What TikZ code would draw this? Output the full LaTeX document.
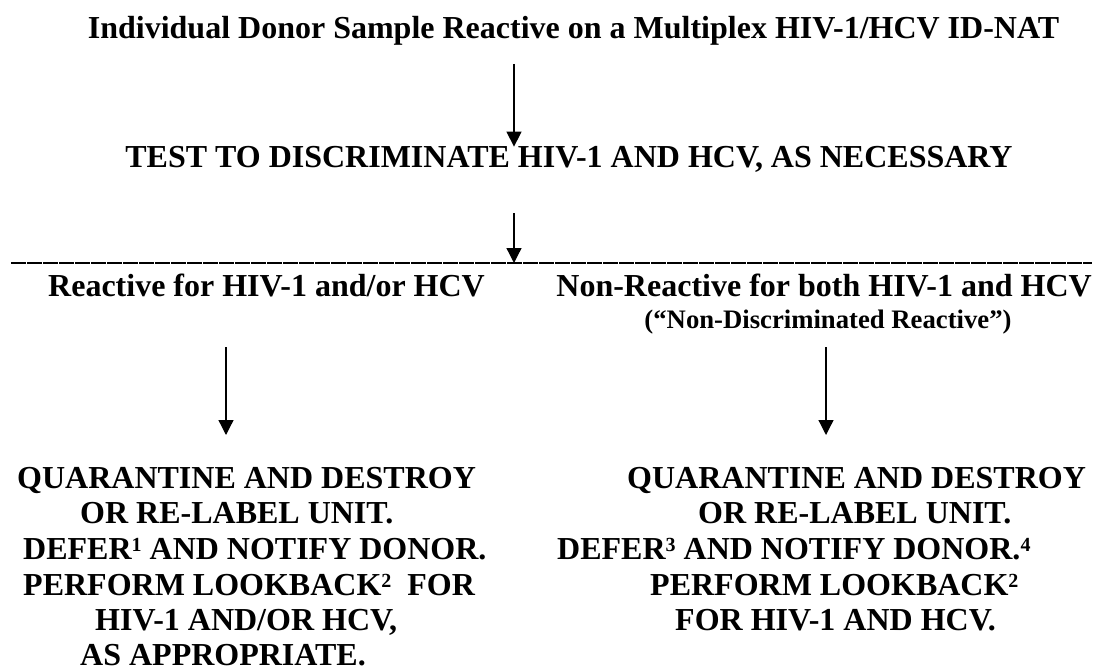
\documentclass[tikz,border=0pt]{standalone}
\usepackage{fontspec}
\setmainfont{Liberation Serif}
\usetikzlibrary{arrows.meta}
\newcommand\supnum[1]{\raisebox{8pt}{\fontsize{20}{20}\selectfont #1}}
\begin{document}
\begin{tikzpicture}[x=1pt,y=-1pt,
  txt/.style={inner sep=0pt, font=\fontsize{32}{36}\selectfont\bfseries},
  lw/.style={txt, anchor=base west},
  small/.style={inner sep=0pt, anchor=base, font=\fontsize{26.7}{30}\selectfont\bfseries},
  arr/.style={line width=1.3pt, -{Triangle[width=15pt,length=15pt]}},
  rulestyle/.style={line width=1.5pt, dash pattern=on 15pt off 1pt}]
\useasboundingbox (0,0) rectangle (1097,671);
% top
\node[txt, anchor=base] (title) at (573.5,39) {Individual Donor Sample Reactive on a Multiplex HIV-1/HCV ID-NAT};
\node[txt, anchor=base] (test) at (569,168) {TEST TO DISCRIMINATE HIV-1 AND HCV, AS NECESSARY};
% rule
\coordinate (ruleL) at (11,263);
\coordinate (ruleR) at (1092,263);
\draw[rulestyle] (ruleL) -- (ruleR);
% branches
\node[lw] (react) at (48,296) {Reactive for HIV-1 and/or HCV};
\node[txt, anchor=base east] (nonreact) at (1092,296) {Non-Reactive for both HIV-1 and HCV};
\node[small] (ndr) at (828,328) {(“Non-Discriminated Reactive”)};
% left block
\node[lw] (l1) at (17,488) {QUARANTINE AND DESTROY};
\node[lw] (l2) at (80,523) {OR RE-LABEL UNIT.};
\node[lw] (l3) at (23,559) {DEFER\supnum{1} AND NOTIFY DONOR.};
\node[lw] (l4) at (23,595) {PERFORM LOOKBACK\supnum{2}\ \ FOR};
\node[lw] (l5) at (95,630) {HIV-1 AND/OR HCV,};
\node[lw] (l6) at (80,665) {AS APPROPRIATE.};
% right block
\node[lw] (r1) at (627,488) {QUARANTINE AND DESTROY};
\node[lw] (r2) at (698,523) {OR RE-LABEL UNIT.};
\node[lw] (r3) at (557,559) {DEFER\supnum{3} AND NOTIFY DONOR.\supnum{4}};
\node[lw] (r4) at (650,595) {PERFORM LOOKBACK\supnum{2}};
\node[lw] (r5) at (675,630) {FOR HIV-1 AND HCV.};
% arrows
\coordinate (a1s) at (514,64);
\draw[arr] (a1s) -- (a1s |- test.north);
\coordinate (a2s) at (514,213);
\draw[arr] (a2s) -- (a2s |- ruleL);
\coordinate (a3s) at (226,347);
\coordinate (a3e) at (226,435);
\draw[arr] (a3s) -- (a3e);
\coordinate (a4s) at (826,347);
\coordinate (a4e) at (826,435);
\draw[arr] (a4s) -- (a4e);
\end{tikzpicture}
\end{document}
